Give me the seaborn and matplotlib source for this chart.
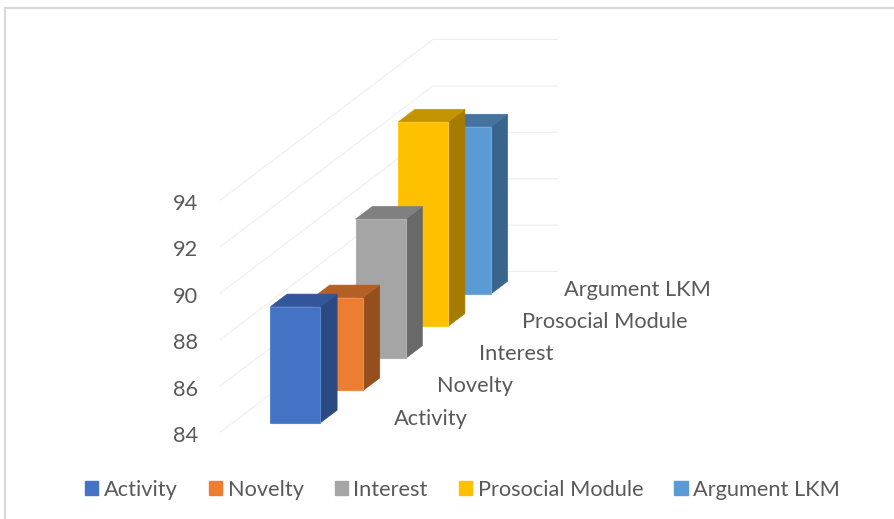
import matplotlib
matplotlib.use("Agg")
import matplotlib.pyplot as plt
from matplotlib.patches import Patch, Polygon
from matplotlib.transforms import ScaledTranslation
import seaborn as sns

# Series drawn front to back along the depth axis
categories = ["Activity", "Novelty", "Interest", "Prosocial Module", "Argument LKM"]
values = [89.0, 88.0, 90.0, 92.8, 91.2]
value_ticks = [84, 86, 88, 90, 92, 94]

front_colors = ["#4472C4", "#ED7D31", "#A5A5A5", "#FFC000", "#5B9BD5"]
side_colors = ["#2C4A82", "#954F1D", "#696969", "#A57C00", "#39648C"]
top_colors = ["#33569A", "#B45F26", "#808080", "#C49500", "#44739F"]
edge_colors = ["#5A85D0", "#F08D4C", "#B0B0B0", "#FFC91F", "#71A9DB"]

sns.set_theme(style="white")
plt.rcParams["font.family"] = ["Lato", "DejaVu Sans"]

W, H = 894, 519
TEXT = "#595959"
GRID = "#EFEFEF"
FONT_SIZE = 15.7
fig = plt.figure(figsize=(W / 100, H / 100), dpi=100, facecolor="white")

# Axes box: value 84 sits on the front floor edge, the top is the back wall's 94 line
LEFT, BOTTOM, TOP, RIGHT = 220, 432.5, 39, 720
ax = fig.add_axes([LEFT / W, 1 - BOTTOM / H, (RIGHT - LEFT) / W, (BOTTOM - TOP) / H])
PX_PER_UNIT = 23.2
DEPTH_DX, DEPTH_DY = 42.6, 32.2      # oblique shift per category slot
FLOOR_WIDTH, BAR_WIDTH = 125.0, 50.0
BAR_DEPTH, BAR_GAP = 0.39, 0.305
n = len(categories)

ax.set_xlim(0, RIGHT - LEFT)
ax.set_ylim(84, 84 + (BOTTOM - TOP) / PX_PER_UNIT)
ax.patch.set_alpha(0)


def project(x, depth, value):
    """Oblique projection onto the axes: depth moves right and up."""
    return x + depth * DEPTH_DX, value + depth * DEPTH_DY / PX_PER_UNIT


# Wall and side gridlines
for v in value_ticks:
    xs, ys = zip(project(0, 0, v), project(0, n, v), project(FLOOR_WIDTH, n, v))
    ax.plot(xs, ys, color=GRID, lw=0.8, zorder=1, clip_on=False)

# Boxes, farthest first
x0 = (FLOOR_WIDTH - BAR_WIDTH) / 2
for i in reversed(range(n)):
    d0 = i + BAR_GAP
    d1 = d0 + BAR_DEPTH
    v = values[i]
    z = 10 + (n - i)
    x1 = x0 + BAR_WIDTH
    front = [project(x0, d0, 84), project(x1, d0, 84), project(x1, d0, v), project(x0, d0, v)]
    side = [project(x1, d0, 84), project(x1, d1, 84), project(x1, d1, v), project(x1, d0, v)]
    top = [project(x0, d0, v), project(x1, d0, v), project(x1, d1, v), project(x0, d1, v)]
    ax.add_patch(Polygon(side, fc=side_colors[i], ec=side_colors[i], lw=0.5, zorder=z, clip_on=False))
    ax.add_patch(Polygon(top, fc=top_colors[i], ec=top_colors[i], lw=0.5, zorder=z, clip_on=False))
    ax.add_patch(Polygon(front, fc=front_colors[i], ec=edge_colors[i], lw=0.8, zorder=z + 0.5, clip_on=False))

# Category names along the depth axis
for i, name in enumerate(categories):
    lx, ly = project(FLOOR_WIDTH + 49, i, 84.6)
    ax.text(lx, ly, name, color=TEXT, fontsize=FONT_SIZE, ha="left", va="center", clip_on=False)

ax.set_xticks([])
ax.set_yticks(value_ticks)
ax.set_yticklabels([str(t) for t in value_ticks], color=TEXT, fontsize=FONT_SIZE)
ax.tick_params(axis="y", length=0, pad=15.5)
nudge = ScaledTranslation(0, -1.5 / 100, fig.dpi_scale_trans)
for label in ax.get_yticklabels():
    label.set_transform(label.get_transform() + nudge)
sns.despine(ax=ax, left=True, bottom=True)

# Legend along the bottom
handles = [Patch(fc=c, ec=c, label=name) for c, name in zip(sns.color_palette(front_colors), categories)]
fig.legend(handles=handles, loc="center", bbox_to_anchor=(462.5 / W, 1 - 489.5 / H), ncol=n,
           frameon=False, fontsize=FONT_SIZE, labelcolor=TEXT, handlelength=0.62, handleheight=0.62,
           handletextpad=0.25, columnspacing=1.42, borderpad=0)

# Chart frame: only the top and left edges are visible
fig.add_artist(plt.Line2D([5 / W, 5 / W], [0, 1 - 8 / H], color="#D9D9D9", lw=1.5))
fig.add_artist(plt.Line2D([5 / W, 1], [1 - 8 / H, 1 - 8 / H], color="#D9D9D9", lw=1.5))

fig.savefig("out.png", dpi=100, facecolor="white")
